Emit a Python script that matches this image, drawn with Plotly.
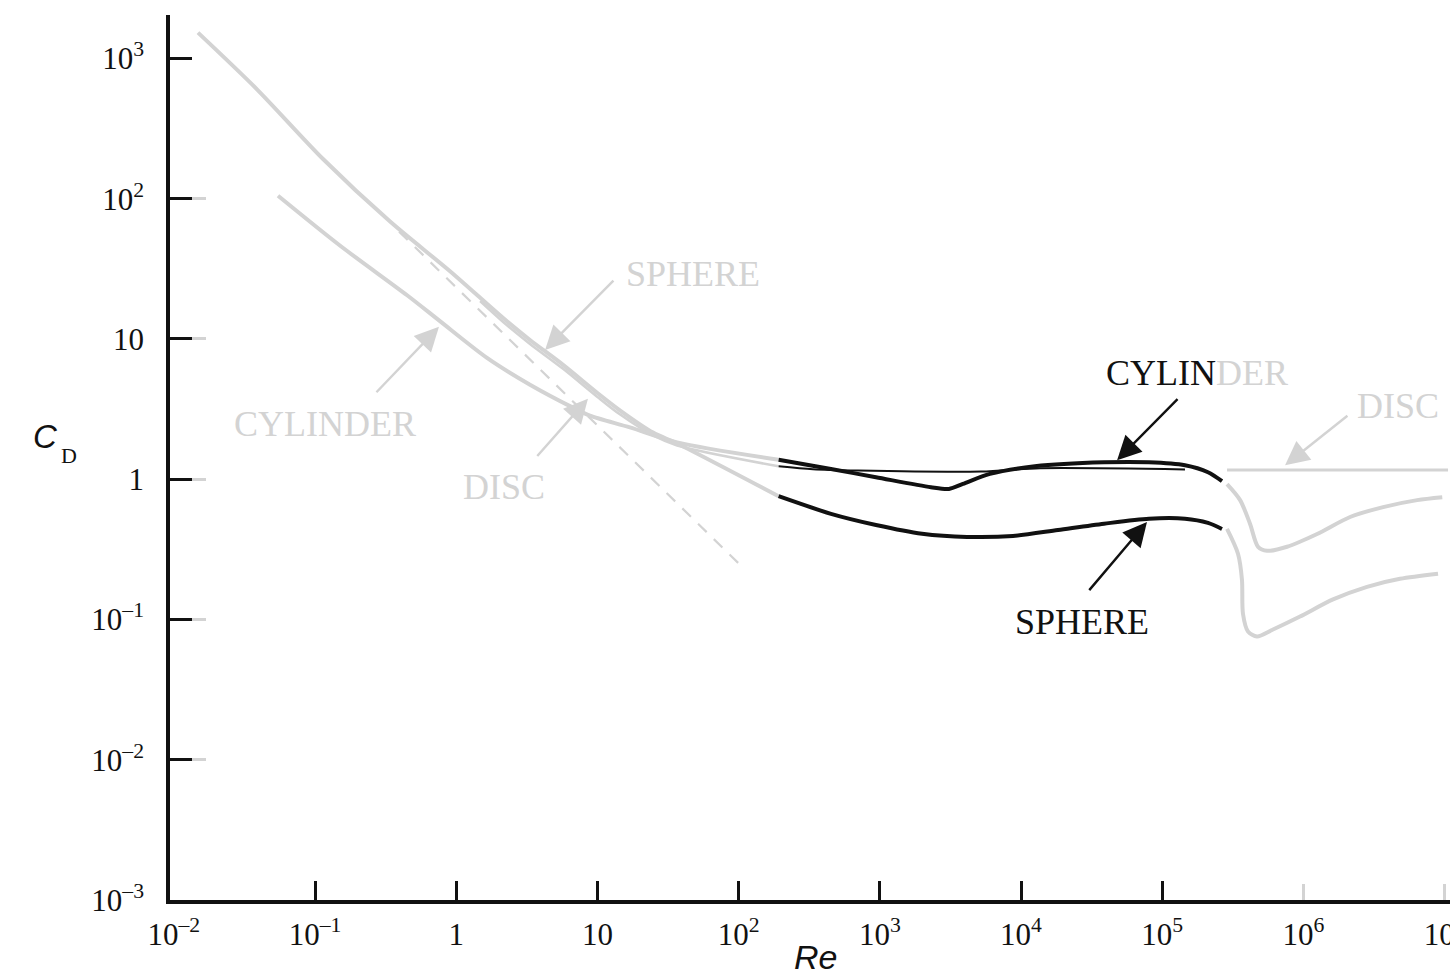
import math
import plotly.graph_objects as go

GREY = "#d3d3d3"
BLACK = "#111111"
SERIF = "Liberation Serif"
SANS = "Liberation Sans"

# ---------------- data (Re, C_D) ----------------
sphere_lo_re = [0.01483, 0.0388, 0.114, 0.340, 0.904, 2.15, 3.33, 5.71, 9.95, 14.5, 24.8, 36.7, 192]
sphere_lo_cd = [1528, 603, 192, 68.7, 30.4, 14.1, 9.84, 6.54, 4.14, 3.09, 2.15, 1.80, 0.757]
sphere_mid_re = [192, 451, 939, 1991, 4145, 8770, 18270, 38700, 80500, 144900, 210900, 265000]
sphere_mid_cd = [0.757, 0.567, 0.472, 0.409, 0.388, 0.394, 0.435, 0.482, 0.523, 0.523, 0.488, 0.442]
sphere_hi_re = [2.877e5, 3.44e5, 3.67e5, 3.73e5, 4.05e5, 4.69e5, 6.09e5, 9.46e5, 1.62e6, 2.82e6, 4.83e6, 8.98e6]
sphere_hi_cd = [0.442, 0.294, 0.192, 0.110, 0.0822, 0.0757, 0.0849, 0.105, 0.139, 0.171, 0.195, 0.212]

cyl_lo_re = [0.0547, 0.150, 0.449, 0.767, 1.652, 3.33, 6.71, 8.85, 17.0, 36.7, 192]
cyl_lo_cd = [105, 46.4, 20.5, 13.4, 7.33, 4.72, 3.24, 2.84, 2.34, 1.83, 1.375]
cyl_mid_re = [192, 451, 939, 2300, 3085, 3875, 6020, 12530, 38700, 80500, 144900, 210900, 265000]
cyl_mid_cd = [1.375, 1.183, 1.033, 0.877, 0.853, 0.926, 1.091, 1.236, 1.320, 1.320, 1.257, 1.121, 0.968]
cyl_hi_re = [2.877e5, 3.56e5, 4.19e5, 4.77e5, 5.53e5, 7.66e5, 1.25e6, 2.14e6, 3.67e6, 6.39e6, 9.62e6]
cyl_hi_cd = [0.922, 0.710, 0.480, 0.330, 0.309, 0.330, 0.407, 0.538, 0.633, 0.710, 0.745]

disc_lo_re = [1.475, 2.15, 3.33, 5.71, 9.95, 14.5, 24.8, 36.7, 192]
disc_lo_cd = [18.6, 13.2, 9.22, 6.13, 3.88, 2.89, 2.05, 1.74, 1.236]
disc_mid_re = [192, 336, 700, 5210, 13650, 144900]
disc_mid_cd = [1.236, 1.178, 1.153, 1.135, 1.197, 1.173]
disc_hi_re = [2.877e5, 1.057e7]
disc_hi_cd = [1.164, 1.164]

stokes_re = [0.394, 105.7]
stokes_cd = [58.3, 0.238]

x_tick_vals = [1e-2, 1e-1, 1, 10, 1e2, 1e3, 1e4, 1e5, 1e6, 1e7]
x_tick_text = ["10<sup>–2</sup>", "10<sup>–1</sup>", "1", "10", "10<sup>2</sup>", "10<sup>3</sup>",
               "10<sup>4</sup>", "10<sup>5</sup>", "10<sup>6</sup>", "10<sup>7</sup>"]
y_tick_vals = [1e-3, 1e-2, 1e-1, 1, 10, 1e2, 1e3]
y_tick_text = ["10<sup>–3</sup>", "10<sup>–2</sup>", "10<sup>–1</sup>", "1", "10", "10<sup>2</sup>", "10<sup>3</sup>"]

# labels: (text, Re, C_D, colour)
labels = [
    ("SPHERE", 47.5, 28.9, GREY),
    ("CYLINDER", 0.118, 2.49, GREY),
    ("DISC", 2.18, 0.877, GREY),
    ("<span style='color:%s'>CYLIN</span><span style='color:%s'>DER</span>" % (BLACK, GREY), 1.76e5, 5.74, BLACK),
    ("DISC", 4.68e6, 3.35, GREY),
    ("SPHERE", 2.70e4, 0.0953, BLACK),
]
# arrows: (tail Re, tail C_D, tip Re, tip C_D, colour)
arrows = [
    (0.266, 4.07, 0.755, 12.2, GREY),
    (13.3, 26.7, 4.26, 8.36, GREY),
    (3.67, 1.43, 8.57, 3.75, GREY),
    (1.315e5, 3.82, 4.79e4, 1.365, BLACK),
    (2.98e4, 0.158, 7.8e4, 0.495, BLACK),
    (2.10e6, 2.89, 7.41e5, 1.256, GREY),
]

fig = go.Figure()

def add(xs, ys, color, width, dash="solid", xa="x", ya="y"):
    fig.add_trace(go.Scatter(x=xs, y=ys, mode="lines", xaxis=xa, yaxis=ya,
                             line=dict(color=color, width=width, dash=dash, shape="spline", smoothing=0.8),
                             hoverinfo="skip", showlegend=False))

# grey low-Re parts (main subplot)
add(stokes_re, stokes_cd, GREY, 2.2, dash="12px,10px")
add(cyl_lo_re, cyl_lo_cd, GREY, 4)
add(disc_lo_re, disc_lo_cd, GREY, 2.5)
add(sphere_lo_re, sphere_lo_cd, GREY, 4)
# grey high-Re parts (grey tick overlay)
add(disc_hi_re, disc_hi_cd, GREY, 3, xa="x2", ya="y2")
add(cyl_hi_re, cyl_hi_cd, GREY, 4, xa="x2", ya="y2")
add(sphere_hi_re, sphere_hi_cd, GREY, 4, xa="x2", ya="y2")
# black highlighted parts (black tick overlay)
add(disc_mid_re, disc_mid_cd, BLACK, 2, xa="x3", ya="y3")
add(cyl_mid_re, cyl_mid_cd, BLACK, 4, xa="x3", ya="y3")
add(sphere_mid_re, sphere_mid_cd, BLACK, 4, xa="x3", ya="y3")

annotations = []
for text, re_, cd, col in labels:
    annotations.append(dict(x=math.log10(re_), y=math.log10(cd), xref="x", yref="y", text=text,
                            xanchor="center", yanchor="middle",
                            showarrow=False, font=dict(family=SERIF, size=36, color=col)))
for tre, tcd, hre, hcd, col in arrows:
    annotations.append(dict(x=math.log10(hre), y=math.log10(hcd), ax=math.log10(tre), ay=math.log10(tcd),
                            xref="x", yref="y", axref="x", ayref="y", text="", showarrow=True,
                            arrowhead=2, arrowsize=2.0, arrowwidth=2.4, arrowcolor=col, standoff=0))
annotations.append(dict(x=45, y=437, xref="paper", yref="paper", text="<i>C</i>", showarrow=False,
                        font=dict(family=SANS, size=33, color=BLACK)))
annotations.append(dict(x=69, y=455, xref="paper", yref="paper", text="D", showarrow=False,
                        font=dict(family=SERIF, size=22, color=BLACK)))
annotations.append(dict(x=815, y=957, xref="paper", yref="paper", text="<i>Re</i>", showarrow=False,
                        font=dict(family=SANS, size=34, color=BLACK)))

W, H = 1450, 976
L, R, T, B = 170, 0, 15, 76
pw, ph = W - L - R, H - T - B
for a in annotations:
    if a["xref"] == "paper":
        a["x"] = (a["x"] - L) / pw
        a["y"] = (H - B - a["y"]) / ph
        a["xanchor"] = "center"
        a["yanchor"] = "middle"

xr = [-2.027, 7.038]
yr = [-3.0, 3.31]
common = dict(type="log", showgrid=False, zeroline=False)

fig.update_layout(
    width=W, height=H, margin=dict(l=L, r=R, t=T, b=B),
    paper_bgcolor="white", plot_bgcolor="white", template="none",
    annotations=annotations,
    xaxis=dict(**common, range=xr, showline=True, linecolor=BLACK, linewidth=3.5, ticks="",
               tickvals=x_tick_vals, ticktext=x_tick_text, automargin=False, ticklabeloverflow="allow",
               tickfont=dict(family=SERIF, size=31, color=BLACK), ticklabelstandoff=4),
    xaxis2=dict(**common, range=xr, overlaying="x", anchor="y2", side="bottom", showline=False,
                ticks="inside", ticklen=16, tickwidth=3, tickcolor=GREY,
                tickvals=x_tick_vals[8:], showticklabels=False),
    xaxis3=dict(**common, range=xr, overlaying="x", anchor="y3", side="bottom", showline=False,
                ticks="inside", ticklen=19, tickwidth=3, tickcolor=BLACK,
                tickvals=x_tick_vals[1:8], showticklabels=False),
    yaxis=dict(**common, range=yr, showline=True, linecolor=BLACK, linewidth=3.5, ticks="",
               tickvals=y_tick_vals, ticktext=y_tick_text, automargin=False,
               tickfont=dict(family=SERIF, size=31, color=BLACK), ticklabelstandoff=16),
    yaxis2=dict(**common, range=yr, overlaying="y", anchor="x2", side="left", showline=False,
                ticks="inside", ticklen=36, tickwidth=3, tickcolor=GREY,
                tickvals=y_tick_vals[1:6], showticklabels=False),
    yaxis3=dict(**common, range=yr, overlaying="y", anchor="x3", side="left", showline=False,
                ticks="inside", ticklen=22, tickwidth=3, tickcolor=BLACK,
                tickvals=y_tick_vals, showticklabels=False),
)

fig.write_html("out.html")
